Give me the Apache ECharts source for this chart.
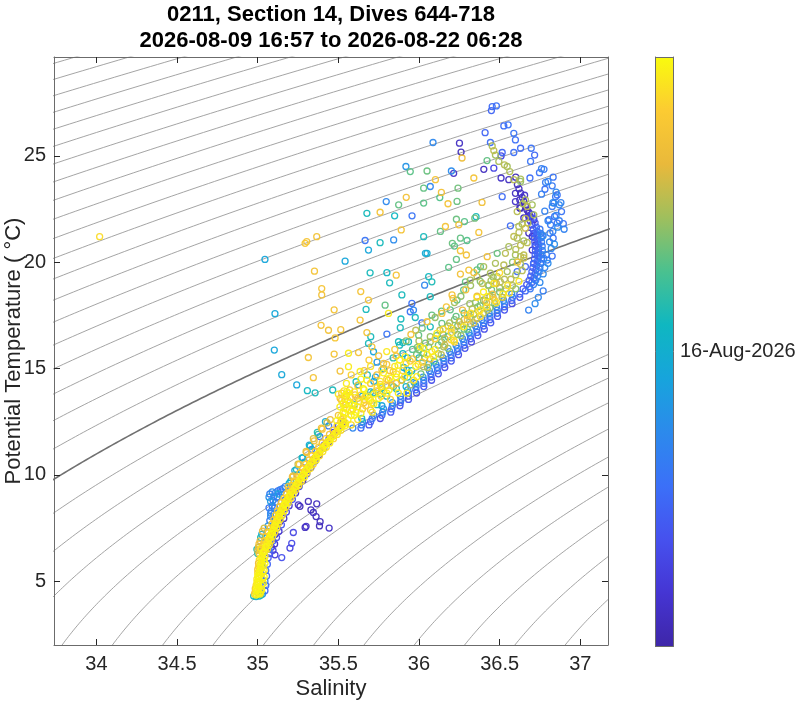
<!DOCTYPE html>
<html>
<head>
<meta charset="utf-8">
<title>0211 T-S</title>
<script src="https://cdn.jsdelivr.net/npm/echarts@6/dist/echarts.min.js"></script>
<style>
html, body { margin: 0; padding: 0; background: #fff; }
#chart { width: 800px; height: 705px; }
</style>
</head>
<body>
<div id="chart"></div>
<script>
// time span of the section, colour axis runs in days since start
const startTime = Date.UTC(2026, 7, 9, 16, 57)
const endTime = Date.UTC(2026, 7, 22, 6, 28)
const spanDays = (endTime - startTime) / 86400000
const cbarTickDays = [(Date.UTC(2026, 7, 16) - startTime) / 86400000]
const cbarTickLabels = ['16-Aug-2026']

const xTicks = [34, 34.5, 35, 35.5, 36, 36.5, 37]
const yTicks = [5, 10, 15, 20, 25]

// isopycnals (sigma-theta, kg/m3)
const sigmaLevels = [20.75, 21, 21.25, 21.5, 21.75, 22, 22.25, 22.5, 22.75, 23, 23.25, 23.5, 23.75,
    24, 24.25, 24.5, 24.75, 25, 25.25, 25.5, 25.75, 26, 26.25, 26.5, 26.75, 27, 27.25, 27.5,
    27.75, 28, 28.25, 28.5, 28.75, 29, 29.25, 29.5, 29.75]
const boldLevel = 26

const parula = ['#3e26a8', '#4535d3', '#4651ee', '#3b70f8', '#2c8aec', '#17a4dc',
    '#0fb7c1', '#4ac18f', '#9fbf5d', '#e9b93b', '#fccb32', '#f9fb0e']

// [salinity, potential temperature, days since start]
const deepCore = [
    [34.99, 4.35, 12.4], [35.0, 4.4, 12.4], [35.01, 4.45, 12.3], [34.995, 4.55, 12.4], [35.005, 4.7, 12.4],
    [35.0, 4.85, 12.3], [35.01, 5.0, 12.4], [35.005, 5.15, 12.4], [35.015, 5.3, 12.3], [35.01, 5.45, 12.4],
    [35.02, 5.6, 12.4], [35.015, 5.75, 12.3], [35.025, 5.9, 12.4], [35.02, 6.05, 12.2], [35.03, 6.2, 12.4],
    [35.035, 6.35, 12.4], [35.02, 4.5, 12.2], [35.025, 4.8, 12.4], [35.03, 5.1, 12.2], [35.03, 5.4, 12.3],
    [35.035, 5.7, 12.2], [35.04, 6.0, 12.3], [34.985, 4.5, 11.6], [34.99, 4.8, 11.9], [34.995, 5.1, 12.0],
    [35.0, 5.4, 11.8], [35.005, 5.7, 11.5], [35.01, 6.0, 11.8], [35.01, 6.3, 10.9],
    [35.015, 4.4, 12.1], [35.025, 4.6, 12.4], [35.035, 4.9, 12.1], [35.04, 5.2, 12.4], [35.04, 5.5, 12.1],
    [35.045, 5.85, 12.4], [35.045, 6.15, 12.0], [35.0, 4.6, 12.2], [35.005, 4.95, 12.1], [35.01, 5.25, 12.2],
    [35.015, 5.55, 12.1], [35.02, 5.85, 12.2], [35.025, 6.15, 12.1], [34.99, 4.65, 12.4], [34.995, 4.95, 12.3],
    [35.0, 5.25, 12.4], [34.98, 4.4, 11.2], [34.985, 4.65, 10.6], [35.0, 5.55, 11.0], [35.005, 5.85, 10.5],
    [35.015, 6.45, 11.5], [35.02, 6.55, 12.0],
    [34.975, 4.3, 7.0], [34.99, 4.28, 6.0], [35.01, 4.3, 6.5], [35.02, 4.35, 7.2],
    [35.045, 4.55, 3.0], [35.05, 4.8, 3.2], [35.045, 5.0, 4.2], [35.055, 5.25, 3.0], [35.05, 5.5, 3.5],
    [35.06, 5.8, 3.0], [35.065, 6.1, 2.6], [35.03, 4.4, 4.5],
    [35.0, 6.3, 7.5], [34.995, 6.5, 6.8], [35.005, 6.6, 10.5]
]

const lowerBand = [
    [35.04, 6.4, 12.3], [35.05, 6.6, 12.4], [35.06, 6.8, 12.1], [35.07, 7.0, 12.3], [35.082, 7.2, 12.5],
    [35.095, 7.4, 12.2], [35.105, 7.6, 12.4], [35.115, 7.8, 12.3], [35.127, 8.0, 12.0], [35.138, 8.2, 12.4],
    [35.151, 8.4, 12.3], [35.165, 8.6, 12.5], [35.18, 8.8, 12.2], [35.195, 9.0, 12.4], [35.21, 9.2, 12.3],
    [35.228, 9.4, 12.1], [35.245, 9.6, 12.4], [35.262, 9.8, 12.3], [35.28, 10.0, 12.5], [35.297, 10.2, 12.2],
    [35.316, 10.4, 12.4], [35.335, 10.6, 12.3], [35.355, 10.8, 12.0], [35.375, 11.0, 12.4], [35.396, 11.2, 12.3],
    [35.418, 11.4, 12.5], [35.44, 11.6, 12.2], [35.463, 11.8, 12.4], [35.486, 12.0, 12.3], [35.51, 12.2, 12.1],
    [35.535, 12.4, 12.4], [35.56, 12.6, 12.3],
    [35.06, 6.5, 11.9], [35.072, 6.7, 12.2], [35.083, 6.9, 11.6], [35.093, 7.1, 12.0], [35.106, 7.3, 11.8],
    [35.118, 7.5, 12.2], [35.128, 7.7, 11.7], [35.14, 7.9, 12.0], [35.152, 8.1, 11.9], [35.164, 8.3, 12.2],
    [35.176, 8.5, 11.6], [35.19, 8.7, 12.0], [35.205, 8.9, 11.8], [35.22, 9.1, 12.2], [35.236, 9.3, 11.7],
    [35.254, 9.5, 12.0], [35.271, 9.7, 11.9], [35.29, 9.9, 12.2], [35.306, 10.1, 11.6], [35.325, 10.3, 12.0],
    [35.344, 10.5, 11.8], [35.363, 10.7, 12.2], [35.383, 10.9, 11.7], [35.404, 11.1, 12.0], [35.425, 11.3, 11.9],
    [35.447, 11.5, 12.2], [35.47, 11.7, 11.6], [35.493, 11.9, 12.0], [35.516, 12.1, 11.8], [35.54, 12.3, 12.2],
    [35.048, 6.45, 12.0], [35.058, 6.65, 12.4], [35.068, 6.85, 11.8], [35.078, 7.05, 12.2], [35.09, 7.25, 12.4],
    [35.103, 7.45, 11.9], [35.113, 7.65, 12.3], [35.123, 7.85, 12.1], [35.135, 8.05, 12.4], [35.146, 8.25, 11.8],
    [35.159, 8.45, 12.2], [35.173, 8.65, 12.4], [35.188, 8.85, 12.0], [35.203, 9.05, 12.3], [35.218, 9.25, 11.9],
    [35.236, 9.45, 12.4], [35.253, 9.65, 12.1], [35.27, 9.85, 12.3], [35.288, 10.05, 11.8], [35.305, 10.25, 12.4],
    [35.324, 10.45, 12.0], [35.343, 10.65, 12.2], [35.363, 10.85, 12.4], [35.383, 11.05, 11.9], [35.404, 11.25, 12.3],
    [35.426, 11.45, 12.1], [35.448, 11.65, 12.4], [35.471, 11.85, 11.8], [35.494, 12.05, 12.2], [35.518, 12.25, 12.4],
    [35.543, 12.45, 12.0],
    [35.032, 6.35, 11.6], [35.042, 6.55, 11.2], [35.052, 6.75, 11.8], [35.062, 6.95, 11.0], [35.074, 7.15, 11.5],
    [35.087, 7.35, 11.9], [35.097, 7.55, 11.1], [35.107, 7.75, 11.6], [35.119, 7.95, 11.3], [35.13, 8.15, 11.8],
    [35.143, 8.35, 11.0], [35.157, 8.55, 11.5], [35.172, 8.75, 11.9], [35.187, 8.95, 11.2], [35.202, 9.15, 11.7],
    [35.22, 9.35, 11.0], [35.237, 9.55, 11.6], [35.254, 9.75, 11.3], [35.272, 9.95, 11.8], [35.289, 10.15, 11.1],
    [35.308, 10.35, 11.5], [35.327, 10.55, 11.9], [35.347, 10.75, 11.2], [35.367, 10.95, 11.6], [35.388, 11.15, 11.0],
    [35.41, 11.35, 11.7], [35.432, 11.55, 11.3], [35.455, 11.75, 11.8], [35.478, 11.95, 11.1], [35.502, 12.15, 11.6],
    [35.527, 12.35, 11.4],
    [35.022, 6.5, 11.2], [35.032, 6.7, 10.8], [35.042, 6.9, 11.5], [35.052, 7.1, 10.9], [35.066, 7.3, 11.4],
    [35.078, 7.5, 10.6], [35.088, 7.7, 11.3], [35.1, 7.9, 10.9], [35.11, 8.1, 11.5], [35.123, 8.3, 10.7],
    [35.135, 8.5, 11.2], [35.148, 8.7, 10.8], [35.163, 8.9, 11.4], [35.178, 9.1, 10.9], [35.193, 9.3, 11.3],
    [35.21, 9.5, 10.7], [35.226, 9.7, 11.5], [35.243, 9.9, 10.8], [35.262, 10.1, 11.2], [35.28, 10.3, 10.9],
    [35.298, 10.5, 11.4], [35.318, 10.7, 10.8], [35.337, 10.9, 11.3], [35.357, 11.1, 10.6], [35.378, 11.3, 11.5],
    [35.4, 11.5, 10.9], [35.422, 11.7, 11.2], [35.445, 11.9, 10.8], [35.468, 12.1, 11.4], [35.492, 12.3, 10.9],
    [35.515, 12.5, 11.3],
    [35.005, 6.6, 6.5], [35.015, 6.9, 10.2], [35.025, 7.2, 5.8], [35.04, 7.5, 9.9], [35.195, 9.6, 6.2],
    [35.215, 9.9, 10.4], [35.23, 10.2, 5.5], [35.25, 10.5, 9.8], [35.275, 10.8, 6.8], [35.3, 11.1, 10.6],
    [35.32, 11.4, 5.9], [35.345, 11.7, 10.1], [35.37, 12.0, 7.2], [35.395, 12.2, 10.8], [35.42, 12.5, 6.0],
    [35.45, 12.6, 10.4],
    [35.0, 6.45, 9.8], [35.008, 6.75, 11.0], [35.018, 7.05, 7.2], [35.03, 7.35, 10.5], [35.19, 9.45, 10.8],
    [35.205, 9.7, 6.5], [35.22, 9.95, 10.9], [35.24, 10.25, 7.0], [35.258, 10.5, 11.2], [35.28, 10.8, 5.8],
    [35.302, 11.05, 10.6], [35.325, 11.35, 6.8], [35.35, 11.6, 10.9], [35.375, 11.9, 7.4], [35.4, 12.15, 11.0],
    [35.43, 12.45, 9.5],
    [35.085, 8.3, 4.0], [35.09, 8.55, 3.6], [35.095, 8.8, 4.2], [35.1, 9.0, 3.8], [35.11, 9.15, 4.4],
    [35.125, 9.25, 3.5], [35.14, 9.3, 4.1], [35.155, 9.35, 3.7], [35.17, 9.45, 4.3], [35.1, 8.15, 3.9],
    [35.105, 8.45, 4.5], [35.11, 8.7, 3.4], [35.12, 8.95, 4.0], [35.065, 7.6, 5.0], [35.075, 7.85, 3.8],
    [35.08, 8.05, 4.6], [35.06, 7.3, 6.0], [35.05, 7.05, 5.2], [35.13, 9.1, 5.5], [35.145, 9.2, 3.2],
    [35.07, 8.95, 4.8], [35.075, 9.1, 3.9], [35.09, 9.2, 4.6], [35.08, 8.75, 5.2], [35.08, 8.2, 4.4],
    [35.07, 8.45, 3.7],
    [35.075, 6.3, 2.5], [35.085, 6.6, 1.2], [35.095, 6.9, 2.8], [35.107, 7.2, 1.0], [35.122, 7.5, 2.2],
    [35.137, 7.8, 0.8], [35.15, 8.1, 2.6], [35.168, 8.4, 1.4], [35.19, 8.7, 2.9], [35.21, 9.0, 1.1],
    [35.232, 9.3, 2.4], [35.256, 9.6, 0.9], [35.28, 9.9, 2.7], [35.305, 10.2, 1.3], [35.33, 10.5, 2.5],
    [35.357, 10.8, 1.0], [35.383, 11.1, 2.8], [35.412, 11.4, 1.2], [35.442, 11.7, 2.6], [35.47, 12.0, 0.9],
    [35.5, 12.3, 2.3], [35.53, 12.5, 1.4],
    [35.095, 6.45, 1.5], [35.105, 6.75, 0.8], [35.117, 7.05, 2.0], [35.132, 7.35, 1.2], [35.147, 7.65, 2.4],
    [35.162, 7.95, 0.7], [35.178, 8.25, 1.8], [35.195, 8.55, 1.0], [35.215, 8.85, 2.2], [35.235, 9.15, 0.9],
    [35.257, 9.45, 1.6], [35.28, 9.75, 0.6], [35.305, 10.05, 2.0], [35.33, 10.35, 1.1], [35.356, 10.65, 1.7],
    [35.383, 10.95, 0.8], [35.41, 11.25, 2.1], [35.44, 11.55, 1.0], [35.47, 11.85, 1.9], [35.5, 12.15, 0.7],
    [35.53, 12.4, 1.5],
    [35.07, 6.5, 3.6], [35.088, 7.0, 3.2], [35.11, 7.6, 3.8], [35.138, 8.2, 3.4], [35.17, 8.8, 3.9],
    [35.205, 9.4, 3.3], [35.245, 10.0, 3.7], [35.29, 10.6, 3.5], [35.335, 11.2, 3.9], [35.385, 11.8, 3.4],
    [35.44, 12.3, 3.8]
]

const lowerOutliers = [
    [35.314, 8.75, 0.5], [35.366, 8.64, 0.6], [35.252, 8.59, 0.8], [35.262, 8.52, 0.4], [35.33, 8.35, 0.5],
    [35.345, 8.23, 0.7], [35.362, 8.04, 0.5], [35.387, 7.8, 0.6], [35.383, 7.6, 0.4], [35.443, 7.5, 0.8],
    [35.294, 7.53, 0.6], [35.3, 7.58, 0.9], [35.221, 7.29, 1.8], [35.211, 6.78, 2.0], [35.2, 6.56, 1.6],
    [35.149, 6.11, 2.2], [35.107, 6.24, 1.4]
]

const midBand = [
    [35.64, 12.2, 3.0], [35.7, 12.5, 2.8], [35.77, 12.8, 3.2], [35.83, 13.1, 2.9], [35.885, 13.4, 3.1],
    [35.935, 13.7, 2.7], [35.98, 14.0, 3.3], [36.03, 14.3, 3.0], [36.075, 14.6, 2.8], [36.115, 14.9, 3.2],
    [36.155, 15.2, 3.0], [36.2, 15.5, 2.9], [36.24, 15.8, 3.3], [36.28, 16.1, 3.0], [36.32, 16.4, 2.7],
    [36.36, 16.7, 3.1], [36.4, 17.0, 3.0], [36.44, 17.3, 2.8], [36.485, 17.6, 3.2], [36.53, 17.9, 3.0],
    [36.575, 18.2, 2.9], [36.625, 18.5, 3.1],
    [35.69, 12.35, 2.2], [35.76, 12.65, 1.8], [35.825, 12.95, 2.4], [35.882, 13.25, 2.0], [35.935, 13.55, 2.3],
    [35.985, 13.85, 1.9], [36.03, 14.15, 2.4], [36.078, 14.45, 2.1], [36.12, 14.75, 2.2], [36.16, 15.05, 1.9],
    [36.2, 15.35, 2.4], [36.245, 15.65, 2.0], [36.285, 15.95, 2.3], [36.325, 16.25, 1.8], [36.365, 16.55, 2.2],
    [36.405, 16.85, 2.0], [36.445, 17.15, 2.4], [36.487, 17.45, 2.1], [36.53, 17.75, 2.3], [36.577, 18.05, 1.9],
    [36.625, 18.35, 2.2],
    [35.645, 12.35, 3.8], [35.71, 12.65, 3.6], [35.775, 12.95, 4.0], [35.835, 13.25, 3.7], [35.888, 13.55, 3.9],
    [35.935, 13.85, 3.6], [35.982, 14.15, 4.0], [36.03, 14.45, 3.8], [36.073, 14.75, 3.7], [36.113, 15.05, 4.0],
    [36.155, 15.35, 3.6], [36.198, 15.65, 3.9], [36.238, 15.95, 3.7], [36.278, 16.25, 4.0], [36.318, 16.55, 3.8],
    [36.358, 16.85, 3.6], [36.4, 17.15, 3.9], [36.44, 17.45, 3.7], [36.485, 17.75, 4.0], [36.53, 18.05, 3.8],
    [36.58, 18.35, 3.6],
    [35.59, 12.2, 4.4], [35.65, 12.5, 4.8], [35.72, 12.8, 4.3], [35.78, 13.1, 4.6], [35.835, 13.4, 5.0],
    [35.885, 13.7, 4.4], [35.93, 14.0, 4.7], [35.98, 14.3, 4.3], [36.025, 14.6, 4.9], [36.065, 14.9, 4.5],
    [36.105, 15.2, 4.4], [36.15, 15.5, 4.8], [36.19, 15.8, 4.3], [36.23, 16.1, 4.6], [36.27, 16.4, 4.4],
    [36.31, 16.7, 4.9], [36.35, 17.0, 4.5], [36.39, 17.3, 4.3], [36.435, 17.6, 4.7], [36.48, 17.9, 4.4],
    [36.525, 18.2, 4.6], [36.575, 18.5, 4.5],
    [35.58, 12.35, 11.8], [35.645, 12.65, 7.0], [35.71, 12.95, 12.1], [35.77, 13.25, 5.8], [35.823, 13.55, 11.5],
    [35.872, 13.85, 12.2], [35.92, 14.15, 6.5], [35.967, 14.45, 11.9], [36.012, 14.75, 8.5], [36.053, 15.05, 9.2],
    [36.095, 15.35, 8.0], [36.138, 15.65, 9.6], [36.18, 15.95, 8.6], [36.22, 16.25, 11.6], [36.26, 16.55, 9.0],
    [36.3, 16.85, 8.2], [36.34, 17.15, 9.8], [36.38, 17.45, 11.9], [36.425, 17.75, 9.3], [36.47, 18.05, 8.7],
    [36.515, 18.35, 9.4],
    [35.58, 12.8, 12.2], [35.65, 13.1, 10.9], [35.71, 13.4, 12.0], [35.765, 13.7, 11.4], [35.815, 14.0, 12.3],
    [35.86, 14.3, 10.8], [35.91, 14.6, 12.1], [35.955, 14.9, 7.0], [35.995, 15.2, 11.6], [36.035, 15.5, 9.3],
    [36.08, 15.8, 12.2], [36.12, 16.1, 8.4], [36.16, 16.4, 9.5], [36.2, 16.7, 11.8], [36.24, 17.0, 8.6],
    [36.28, 17.3, 9.4], [36.32, 17.6, 12.0], [36.365, 17.9, 8.9], [36.41, 18.2, 9.6], [36.455, 18.5, 10.8],
    [35.6, 13.25, 12.3], [35.66, 13.55, 11.0], [35.715, 13.85, 7.2], [35.765, 14.15, 12.2], [35.81, 14.45, 10.9],
    [35.86, 14.75, 12.0], [35.905, 15.05, 6.2], [35.945, 15.35, 11.5], [35.985, 15.65, 8.6], [36.03, 15.95, 12.1],
    [36.07, 16.25, 9.2], [36.11, 16.55, 8.0], [36.15, 16.85, 11.7], [36.19, 17.15, 9.4], [36.23, 17.45, 8.3],
    [36.27, 17.75, 10.5], [36.315, 18.05, 9.1], [36.36, 18.35, 12.0]
]

const midDense = [
    [35.49, 12.55, 12.4], [35.515, 12.75, 11.9], [35.53, 12.95, 12.4], [35.535, 13.15, 12.0], [35.53, 13.35, 12.4],
    [35.54, 13.55, 11.7], [35.545, 13.75, 12.3], [35.535, 13.95, 11.9], [35.56, 13.85, 12.4], [35.575, 13.65, 11.3],
    [35.585, 13.3, 12.4], [35.59, 13.1, 11.5], [35.61, 12.95, 12.4], [35.62, 12.6, 11.9], [35.63, 13.45, 12.2],
    [35.64, 13.75, 11.1], [35.655, 14.05, 12.4], [35.67, 13.25, 11.6], [35.69, 13.6, 12.4], [35.7, 13.05, 10.9],
    [35.72, 13.35, 12.3], [35.735, 13.95, 11.2], [35.75, 13.6, 12.4], [35.76, 14.25, 11.6], [35.78, 13.9, 12.2],
    [35.8, 14.2, 10.7], [35.82, 14.55, 12.4], [35.84, 14.85, 11.5], [35.87, 15.15, 12.3], [35.89, 14.45, 10.8],
    [35.92, 15.25, 11.9], [35.94, 14.8, 12.4], [35.96, 15.45, 11.0], [35.98, 15.1, 12.3], [36.0, 15.5, 7.2],
    [36.02, 15.3, 11.4], [36.05, 15.65, 12.2], [36.07, 15.45, 10.6], [36.1, 15.9, 12.0], [36.12, 15.7, 9.0],
    [36.14, 16.25, 8.5], [36.16, 16.1, 9.8], [36.18, 16.5, 8.2], [36.2, 16.35, 11.5], [36.22, 16.8, 9.3],
    [36.24, 16.6, 8.6], [36.26, 17.05, 9.9], [36.28, 16.85, 8.3], [36.3, 17.3, 11.0], [36.32, 17.1, 9.2],
    [36.34, 17.55, 8.4], [36.36, 17.35, 9.7], [36.38, 17.95, 8.1], [36.4, 17.6, 9.4], [36.42, 18.1, 10.6],
    [36.44, 17.85, 8.7], [36.46, 18.35, 9.5], [36.48, 18.1, 12.0], [36.5, 18.6, 8.6], [36.52, 18.35, 9.8],
    [36.54, 18.75, 9.1], [36.56, 18.55, 11.9], [36.58, 18.9, 9.4], [36.6, 18.75, 8.8], [36.57, 19.2, 9.6],
    [36.6, 19.4, 9.2], [36.62, 19.1, 12.1], [36.64, 19.6, 9.5], [36.63, 19.9, 9.3], [36.65, 20.2, 9.7],
    [36.61, 20.0, 10.9], [36.58, 20.0, 8.8], [36.6, 20.6, 9.4], [36.63, 20.8, 9.6], [36.65, 21.0, 9.2],
    [36.62, 21.4, 9.5], [36.66, 21.6, 9.8], [36.64, 21.8, 9.3],
    [35.86, 14.05, 6.8], [35.93, 14.6, 7.3], [36.06, 15.2, 6.2], [35.8, 13.7, 7.0], [35.74, 13.3, 6.5],
    [35.97, 14.35, 5.9]
]

const midFuzz = [
    [35.53, 12.7, 12.2], [35.54, 12.9, 11.8], [35.55, 13.1, 12.3], [35.545, 13.3, 11.5], [35.56, 13.5, 12.0],
    [35.55, 13.7, 10.9], [35.57, 13.4, 12.4], [35.58, 13.0, 12.1], [35.52, 12.6, 11.0], [35.6, 12.8, 12.3],
    [35.62, 13.2, 11.6], [35.64, 12.9, 12.2], [35.66, 13.4, 10.8], [35.68, 13.7, 12.0], [35.7, 13.5, 11.4],
    [35.72, 13.8, 12.3], [35.62, 13.6, 10.5], [35.6, 13.9, 12.2], [35.74, 14.1, 11.8], [35.66, 14.0, 12.4],
    [35.7, 14.3, 10.8], [35.76, 14.4, 12.1], [35.8, 14.5, 11.5], [35.78, 14.8, 12.3], [35.82, 14.9, 10.9],
    [35.85, 15.1, 12.0], [35.8, 15.2, 11.2], [35.88, 15.4, 12.2], [35.9, 14.9, 11.7], [35.86, 14.6, 12.4],
    [35.83, 14.2, 10.6], [35.76, 13.8, 7.0], [35.7, 13.9, 6.0], [35.73, 14.6, 5.5], [35.68, 14.7, 7.2],
    [35.78, 15.0, 6.5], [35.74, 15.3, 5.2], [35.84, 15.5, 7.5], [35.9, 15.7, 6.8], [35.93, 15.5, 5.8],
    [35.96, 15.9, 8.0], [35.99, 16.0, 8.6], [36.0, 16.3, 9.3], [36.04, 16.2, 8.3], [36.07, 16.5, 9.0],
    [36.1, 16.4, 11.6], [36.13, 16.8, 9.6], [36.15, 16.6, 8.4], [36.18, 17.0, 9.2], [36.2, 16.9, 11.8],
    [36.22, 17.3, 8.6], [36.25, 17.2, 9.8], [36.28, 17.6, 8.2], [36.3, 17.5, 11.2], [36.33, 17.8, 9.4],
    [36.35, 18.1, 8.8], [36.37, 17.7, 11.7], [36.4, 18.2, 9.0], [36.42, 17.9, 12.0], [36.44, 18.4, 9.6],
    [36.45, 18.7, 8.5], [36.47, 18.2, 11.5], [36.5, 18.8, 9.2], [36.52, 18.5, 12.1], [36.48, 19.0, 10.0],
    [36.43, 18.9, 9.4], [36.4, 18.6, 12.2], [36.38, 19.1, 8.7], [36.36, 18.4, 10.5], [36.46, 19.3, 9.0],
    [36.5, 19.5, 11.8], [36.53, 19.2, 9.5], [36.55, 18.9, 12.0],
    [35.5, 12.8, 10.9], [35.51, 13.2, 12.3], [35.52, 13.5, 11.2], [35.5, 13.8, 12.0], [35.57, 14.0, 10.8],
    [35.55, 14.3, 12.2], [35.62, 14.2, 11.0], [35.64, 14.5, 12.3], [35.58, 14.7, 11.6], [35.66, 14.9, 10.7],
    [35.7, 15.1, 12.0], [35.69, 15.4, 11.4], [35.75, 15.6, 10.9], [35.8, 15.8, 12.1], [35.85, 15.9, 11.3],
    [35.88, 16.1, 7.0], [35.92, 16.3, 8.8], [35.95, 16.6, 10.9], [35.98, 16.8, 9.5], [36.02, 16.9, 8.5],
    [36.05, 17.2, 11.2], [36.1, 17.4, 9.0], [36.14, 17.7, 8.2], [36.17, 17.9, 11.0], [36.22, 18.1, 9.2],
    [36.26, 18.4, 8.9], [36.29, 18.7, 10.8], [36.32, 18.9, 9.1], [35.6, 13.3, 5.5], [35.65, 13.7, 6.2],
    [35.72, 14.4, 5.9], [35.77, 14.1, 7.1],
    [35.894, 14.46, 7.0], [35.925, 14.94, 5.8], [36.0, 15.88, 8.3], [36.06, 16.02, 8.3], [36.111, 16.65, 12.2],
    [36.142, 17.12, 8.3], [36.194, 17.76, 8.3], [36.236, 18.22, 8.3], [36.277, 18.7, 8.3], [36.318, 19.16, 9.3],
    [36.36, 19.64, 8.3], [36.401, 19.79, 9.3], [36.443, 19.48, 9.3], [36.464, 19.0, 12.0], [36.422, 18.38, 12.2],
    [36.381, 17.76, 12.0], [36.318, 17.44, 9.3], [36.277, 16.96, 12.2], [36.215, 16.33, 12.0], [36.153, 16.02, 9.3],
    [36.091, 15.56, 12.2], [36.029, 15.09, 9.3], [35.987, 14.62, 12.2], [35.946, 14.23, 9.3], [35.925, 13.84, 12.2],
    [35.842, 14.15, 8.3], [35.801, 13.84, 12.2]
]

const column = [
    [36.66, 18.65, 3.0], [36.685, 18.85, 2.8], [36.7, 19.05, 3.1], [36.712, 19.25, 2.9], [36.72, 19.45, 3.2],
    [36.725, 19.65, 2.7], [36.73, 19.85, 3.0], [36.735, 20.05, 2.8], [36.74, 20.25, 3.3], [36.742, 20.45, 2.9],
    [36.743, 20.65, 3.1], [36.74, 20.85, 2.7], [36.738, 21.05, 3.0], [36.735, 21.25, 2.8], [36.733, 21.45, 3.2],
    [36.728, 21.65, 2.9], [36.72, 21.85, 2.6], [36.71, 22.05, 2.2], [36.7, 22.25, 1.8],
    [36.645, 18.75, 2.6], [36.668, 18.95, 2.4], [36.683, 19.15, 2.8], [36.693, 19.35, 2.5], [36.7, 19.55, 2.9],
    [36.706, 19.75, 2.4], [36.71, 19.95, 2.7], [36.716, 20.15, 2.3], [36.72, 20.35, 2.8], [36.722, 20.55, 2.5],
    [36.72, 20.75, 2.9], [36.718, 20.95, 2.4], [36.715, 21.15, 2.6], [36.712, 21.35, 2.2], [36.708, 21.55, 2.5],
    [36.7, 21.75, 1.8], [36.69, 21.95, 1.4], [36.68, 22.15, 1.0],
    [36.69, 18.75, 3.8], [36.71, 18.95, 4.0], [36.724, 19.15, 3.6], [36.735, 19.35, 4.2], [36.745, 19.55, 3.9],
    [36.75, 19.75, 4.1], [36.755, 19.95, 3.7], [36.76, 20.15, 4.0], [36.763, 20.35, 3.8], [36.765, 20.55, 4.3],
    [36.764, 20.75, 3.6], [36.76, 20.95, 4.0], [36.758, 21.15, 3.9], [36.755, 21.35, 4.1], [36.75, 21.55, 3.7],
    [36.67, 22.45, 0.5], [36.66, 22.65, 0.6], [36.65, 22.85, 0.4], [36.64, 23.05, 0.7], [36.63, 23.25, 0.5],
    [36.68, 22.35, 0.8], [36.69, 22.15, 0.6], [36.645, 22.75, 9.3], [36.655, 23.15, 0.9], [36.62, 23.45, 0.6],
    [36.61, 23.65, 0.5], [36.63, 23.8, 9.0], [36.6, 24.0, 0.4], [36.625, 22.55, 0.5], [36.66, 22.05, 9.6],
    [36.77, 19.45, 4.5], [36.78, 19.75, 4.2], [36.8, 19.95, 4.6], [36.79, 20.35, 4.0], [36.82, 20.65, 4.4],
    [36.81, 20.95, 4.3], [36.84, 20.85, 4.7], [36.77, 21.25, 4.5], [36.83, 21.45, 4.1], [36.86, 21.65, 4.6],
    [36.8, 21.95, 4.3], [36.87, 21.95, 4.0], [36.85, 22.2, 4.4], [36.78, 22.4, 4.2], [36.83, 22.8, 4.6],
    [36.88, 22.8, 4.2], [36.76, 23.2, 4.0], [36.85, 23.3, 4.5], [36.8, 23.8, 4.3], [36.76, 24.4, 4.1],
    [36.9, 21.55, 4.2], [36.87, 22.7, 4.4], [36.75, 19.05, 4.5], [36.77, 18.65, 4.0], [36.74, 18.35, 4.4],
    [36.72, 18.05, 4.6], [36.68, 17.75, 4.2]
]

const scatterUpper = [
    [36.454, 27.32, 3.2], [36.48, 27.35, 3.4], [36.449, 27.13, 3.0], [36.526, 26.41, 3.3], [36.553, 26.46, 3.5],
    [36.41, 26.09, 3.0], [36.588, 26.06, 3.6], [36.598, 25.75, 3.4], [36.087, 25.63, 4.5], [36.251, 25.6, 0.7],
    [36.261, 25.18, 0.5], [36.267, 24.9, 10.6], [36.443, 25.63, 3.3], [36.454, 25.47, 9.4], [36.464, 25.25, 9.6],
    [36.474, 25.04, 9.2], [36.509, 25.0, 1.8], [36.516, 25.16, 3.0], [36.588, 25.16, 3.4], [36.63, 25.36, 3.2],
    [36.696, 25.36, 3.5], [36.717, 25.04, 3.1], [36.692, 24.74, 3.6], [36.422, 24.78, 8.3], [36.495, 24.74, 9.3],
    [36.53, 24.58, 9.5], [36.547, 24.5, 9.2], [36.563, 24.26, 9.4], [36.402, 24.37, 0.6], [36.464, 24.42, 1.8],
    [36.509, 23.96, 0.8], [36.557, 23.88, 0.6], [36.588, 23.88, 9.5], [36.63, 23.91, 9.3], [36.688, 23.96, 3.3],
    [36.775, 24.37, 3.8], [36.747, 24.21, 3.5], [36.785, 23.75, 3.9], [36.832, 24.0, 3.6], [36.826, 23.59, 3.8],
    [36.781, 23.43, 3.5], [36.516, 23.08, 3.2], [36.598, 23.24, 0.7], [36.625, 22.93, 0.5], [36.66, 22.93, 9.4],
    [36.598, 22.85, 0.9], [36.671, 22.62, 9.6], [36.702, 22.7, 9.2], [36.63, 22.54, 0.6], [36.609, 22.38, 9.5],
    [36.681, 22.3, 0.5], [36.712, 22.23, 9.3], [36.65, 22.08, 0.7], [36.675, 21.84, 9.4], [36.712, 22.0, 0.6],
    [36.847, 23.08, 3.7], [36.857, 23.16, 3.5], [36.837, 22.78, 3.9], [36.884, 22.38, 3.6], [36.826, 22.62, 3.8],
    [36.841, 22.15, 3.4], [36.857, 21.84, 3.7], [36.895, 21.81, 3.5], [36.816, 21.76, 3.8], [36.806, 22.0, 3.6],
    [36.812, 21.37, 3.9], [36.832, 21.13, 3.5], [36.567, 21.71, 3.2], [36.619, 21.68, 9.4], [36.588, 21.21, 9.6],
    [36.609, 21.13, 9.3], [36.681, 21.37, 0.6], [36.702, 21.21, 0.8], [36.729, 21.28, 3.0], [36.764, 21.24, 3.4],
    [36.671, 20.92, 9.5], [36.722, 20.81, 0.7], [36.733, 20.42, 3.2], [36.702, 20.57, 0.6], [36.557, 20.73, 9.3],
    [36.536, 20.42, 9.5], [36.598, 20.34, 9.2], [36.65, 20.34, 9.6], [36.63, 20.26, 9.4], [36.609, 19.56, 3.3],
    [36.66, 19.79, 3.1], [36.712, 19.95, 3.4], [36.754, 19.95, 3.6], [36.795, 20.1, 3.8], [36.826, 20.29, 3.5],
    [36.774, 20.18, 3.7], [36.485, 20.42, 8.4], [36.474, 19.95, 9.3], [36.526, 19.87, 9.5], [36.547, 19.56, 9.2],
    [36.423, 20.26, 10.8], [36.381, 19.79, 8.3], [36.36, 19.32, 9.4], [36.392, 19.0, 9.6], [36.433, 18.92, 8.2],
    [36.485, 19.32, 9.3], [36.505, 19.08, 9.5], [36.447, 19.13, 9.2],
    [35.919, 24.5, 5.0], [35.946, 24.26, 8.2], [36.05, 24.29, 8.4], [36.102, 23.88, 10.9], [36.07, 23.56, 4.4],
    [36.029, 23.48, 8.3], [36.139, 23.28, 10.8], [36.129, 23.04, 8.1], [36.201, 24.29, 4.6], [36.215, 24.18, 0.8],
    [36.242, 23.48, 8.5], [36.34, 23.96, 10.9], [35.797, 22.85, 4.5], [35.921, 23.05, 10.8], [35.874, 22.7, 8.3],
    [36.029, 22.78, 8.2], [36.18, 22.75, 10.9], [36.236, 22.86, 8.4], [36.391, 22.81, 10.7], [35.849, 22.18, 6.8],
    [35.957, 22.18, 3.6], [35.89, 21.52, 10.9], [35.843, 21.05, 4.6], [36.029, 21.2, 7.0], [36.133, 21.45, 8.3],
    [36.164, 21.68, 10.9], [36.232, 22.02, 8.4], [36.247, 21.76, 10.8], [36.282, 21.91, 8.2], [36.346, 22.07, 8.5],
    [36.354, 22.14, 7.0], [36.371, 21.4, 10.9], [36.257, 21.13, 8.3], [36.298, 21.02, 8.1], [36.207, 20.89, 8.4],
    [36.22, 20.76, 8.2], [36.04, 20.42, 6.0], [36.05, 20.42, 6.2], [36.257, 20.54, 10.9], [36.294, 20.34, 10.8],
    [36.232, 20.13, 8.3], [36.184, 19.76, 8.2], [35.801, 19.51, 6.8], [35.818, 19.03, 7.0], [35.859, 19.39, 10.9],
    [36.035, 18.92, 4.4], [36.06, 19.32, 6.9], [36.08, 19.08, 7.1], [36.257, 19.44, 10.8], [36.309, 19.63, 10.9],
    [36.34, 19.51, 10.7], [36.288, 19.08, 8.3]
]

const scatterLeft = [
    [34.02, 21.2, 11.8],
    [35.045, 20.13, 5.8], [35.294, 20.89, 11.2], [35.304, 20.97, 11.0], [35.366, 21.2, 10.9], [35.542, 20.05, 5.8],
    [35.352, 19.58, 10.9], [35.397, 18.76, 11.0], [35.397, 18.46, 10.8], [35.107, 17.58, 5.9], [35.474, 17.76, 10.9],
    [35.393, 17.03, 11.0], [35.439, 16.8, 10.8], [35.515, 16.83, 10.9], [35.48, 16.44, 11.1], [35.314, 15.52, 10.9],
    [35.103, 15.87, 5.8], [35.149, 14.71, 5.9], [35.242, 14.23, 5.8], [35.308, 13.96, 6.8], [35.356, 13.86, 7.0],
    [35.345, 14.57, 10.9], [35.511, 14.88, 10.8], [35.474, 15.68, 10.9], [35.563, 15.72, 12.2], [35.625, 15.75, 10.9],
    [35.677, 22.3, 7.0], [35.759, 22.35, 10.9], [35.666, 21.02, 3.6], [35.687, 20.57, 5.8], [35.759, 20.92, 7.0],
    [35.697, 19.5, 7.0], [35.639, 18.62, 10.9], [35.687, 18.22, 10.9], [35.894, 18.46, 7.0], [36.07, 18.38, 7.0],
    [36.205, 18.46, 10.9], [36.211, 18.3, 10.8], [35.672, 17.78, 7.0], [35.79, 17.98, 8.3], [35.956, 18.06, 3.5],
    [35.966, 17.75, 4.4], [35.977, 17.4, 7.0], [35.946, 17.67, 3.6], [36.08, 17.51, 8.3], [36.142, 17.59, 10.9],
    [35.811, 17.59, 12.2], [35.888, 17.33, 7.0], [35.884, 16.92, 7.0], [36.018, 17.15, 3.5], [36.07, 16.96, 7.0],
    [35.998, 16.57, 8.3], [35.801, 16.62, 3.6], [35.635, 17.28, 10.9], [35.677, 16.69, 10.9], [35.701, 16.5, 7.0],
    [35.687, 16.18, 7.0], [35.708, 16.02, 10.9], [35.718, 15.79, 5.8], [35.873, 16.26, 7.0], [35.9, 16.22, 7.0],
    [35.935, 16.26, 6.9], [36.008, 16.02, 12.2], [35.859, 15.59, 10.9], [35.915, 15.56, 12.2], [36.029, 15.72, 8.3],
    [35.563, 15.09, 12.2], [35.635, 14.86, 12.2], [35.677, 14.46, 12.2], [35.739, 14.7, 10.9], [35.78, 15.24, 10.9],
    [35.77, 14.94, 10.9], [35.61, 14.38, 7.0], [35.625, 14.23, 5.8], [35.552, 13.91, 12.2], [35.604, 13.76, 10.9],
    [35.666, 13.68, 12.2], [35.465, 13.99, 7.0], [35.521, 13.84, 10.9], [35.511, 13.6, 10.9]
]

// UNESCO EOS-80 at the surface, sigma-theta
function sigma0(s, t) {
    const rw = 999.842594 + 6.793952e-2 * t - 9.095290e-3 * t * t + 1.001685e-4 * t ** 3
        - 1.120083e-6 * t ** 4 + 6.536332e-9 * t ** 5
    const a = 0.824493 - 4.0899e-3 * t + 7.6438e-5 * t * t - 8.2467e-7 * t ** 3 + 5.3875e-9 * t ** 4
    const b = -5.72466e-3 + 1.0227e-4 * t - 1.6546e-6 * t * t
    return rw + a * s + b * s ** 1.5 + 4.8314e-4 * s * s - 1000
}

function isopycnal(level) {
    const pts = []
    for (let i = 0; i <= 320; i++) {
        const t = i / 10
        let s = 35
        for (let k = 0; k < 12; k++) {
            const f = sigma0(s, t) - level
            const df = (sigma0(s + 1e-3, t) - sigma0(s - 1e-3, t)) / 2e-3
            s -= f / df
        }
        pts.push([s, t])
    }
    return pts
}

const samples = [].concat(deepCore, lowerBand, lowerOutliers, midBand, midDense, midFuzz, column, scatterUpper, scatterLeft)
    .sort(function (a, b) { return a[2] - b[2] })

const font = '"Liberation Sans", Arial, Helvetica, sans-serif'
const ink = '#262626'
const frame = '#6b6b6b'

const contourSeries = sigmaLevels.map(function (lev) {
    const bold = lev === boldLevel
    return {
        type: 'line',
        xAxisIndex: 0,
        yAxisIndex: 0,
        data: isopycnal(lev),
        showSymbol: false,
        silent: true,
        clip: true,
        z: 1,
        lineStyle: { color: bold ? '#717171' : '#9a9a9a', width: bold ? 1.6 : 0.9 }
    }
})

const scatterIndex = contourSeries.length

function frameAxis(extra) {
    return Object.assign({
        type: 'value',
        z: 10,
        splitLine: { show: false },
        axisLine: { show: true, onZero: false, lineStyle: { color: frame, width: 1 } }
    }, extra)
}

const chart = echarts.init(document.getElementById('chart'), null, { renderer: 'canvas' })
chart.setOption({
    animation: false,
    backgroundColor: '#fff',
    textStyle: { fontFamily: font },
    graphic: [
        { type: 'text', x: 331, y: 15, style: { text: '0211, Section 14, Dives 644-718', font: 'bold 22px ' + font, fill: '#000', textAlign: 'center', textVerticalAlign: 'middle' } },
        { type: 'text', x: 331, y: 41, style: { text: '2026-08-09 16:57 to 2026-08-22 06:28', font: 'bold 22px ' + font, fill: '#000', textAlign: 'center', textVerticalAlign: 'middle' } }
    ],
    grid: [
        { left: 54, top: 57, width: 554, height: 588, outerBoundsMode: 'none', containLabel: false },
        { left: 655.5, top: 57, width: 17.5, height: 589.5, outerBoundsMode: 'none', containLabel: false }
    ],
    xAxis: [
        frameAxis({
            gridIndex: 0, position: 'bottom', min: 33.737, max: 37.172,
            name: 'Salinity', nameLocation: 'middle', nameGap: 33, nameMoveOverlap: false,
            nameTextStyle: { fontSize: 22, color: ink, fontFamily: font },
            axisTick: { inside: true, length: 6, customValues: xTicks, lineStyle: { color: ink } },
            axisLabel: { customValues: xTicks, fontSize: 20, color: ink, margin: 9, fontFamily: font }
        }),
        frameAxis({
            gridIndex: 0, position: 'top', min: 33.737, max: 37.172,
            axisTick: { inside: true, length: 6, customValues: xTicks, lineStyle: { color: ink } },
            axisLabel: { show: false }
        }),
        frameAxis({
            gridIndex: 1, type: 'category', data: ['c'], position: 'bottom',
            axisTick: { show: false }, axisLabel: { show: false }
        }),
        frameAxis({
            gridIndex: 1, type: 'category', data: ['c'], position: 'top',
            axisTick: { show: false }, axisLabel: { show: false }
        })
    ],
    yAxis: [
        frameAxis({
            gridIndex: 0, position: 'left', min: 2, max: 29.65,
            name: 'Potential Temperature ( °C)', nameLocation: 'middle', nameGap: 29, nameMoveOverlap: false,
            nameTextStyle: { fontSize: 22, color: ink, fontFamily: font },
            axisTick: { inside: true, length: 6, customValues: yTicks, lineStyle: { color: ink } },
            axisLabel: { customValues: yTicks, fontSize: 20, color: ink, margin: 8, fontFamily: font }
        }),
        frameAxis({
            gridIndex: 0, position: 'right', min: 2, max: 29.65,
            axisTick: { inside: true, length: 6, customValues: yTicks, lineStyle: { color: ink } },
            axisLabel: { show: false }
        }),
        frameAxis({
            gridIndex: 1, position: 'right', min: 0, max: spanDays,
            axisTick: { inside: true, length: 5, customValues: cbarTickDays, lineStyle: { color: ink } },
            axisLabel: {
                customValues: cbarTickDays, fontSize: 20, color: ink, margin: 7, fontFamily: font,
                formatter: function (v) {
                    const i = cbarTickDays.findIndex(function (d) { return Math.abs(d - v) < 1e-6 })
                    return i >= 0 ? cbarTickLabels[i] : ''
                }
            }
        }),
        frameAxis({
            gridIndex: 1, position: 'left', min: 0, max: spanDays,
            axisTick: { inside: true, length: 5, customValues: cbarTickDays, lineStyle: { color: ink } },
            axisLabel: { show: false }
        })
    ],
    visualMap: {
        show: false,
        type: 'continuous',
        seriesIndex: scatterIndex,
        dimension: 2,
        min: 0,
        max: spanDays,
        inRange: { color: parula }
    },
    series: contourSeries.concat([
        {
            type: 'custom',
            xAxisIndex: 0,
            yAxisIndex: 0,
            data: samples,
            encode: { x: 0, y: 1 },
            z: 5,
            silent: true,
            renderItem: function (params, api) {
                const p = api.coord([api.value(0), api.value(1)])
                return {
                    type: 'circle',
                    shape: { cx: p[0], cy: p[1], r: 3.0 },
                    style: { fill: 'none', stroke: api.visual('color'), lineWidth: 1.3, opacity: 0.95 }
                }
            }
        },
        {
            type: 'bar',
            xAxisIndex: 2,
            yAxisIndex: 2,
            data: [spanDays],
            barWidth: '100%',
            silent: true,
            itemStyle: {
                color: new echarts.graphic.LinearGradient(0, 1, 0, 0, parula.map(function (c, i) {
                    return { offset: i / (parula.length - 1), color: c }
                }))
            }
        }
    ])
})
</script>
</body>
</html>
